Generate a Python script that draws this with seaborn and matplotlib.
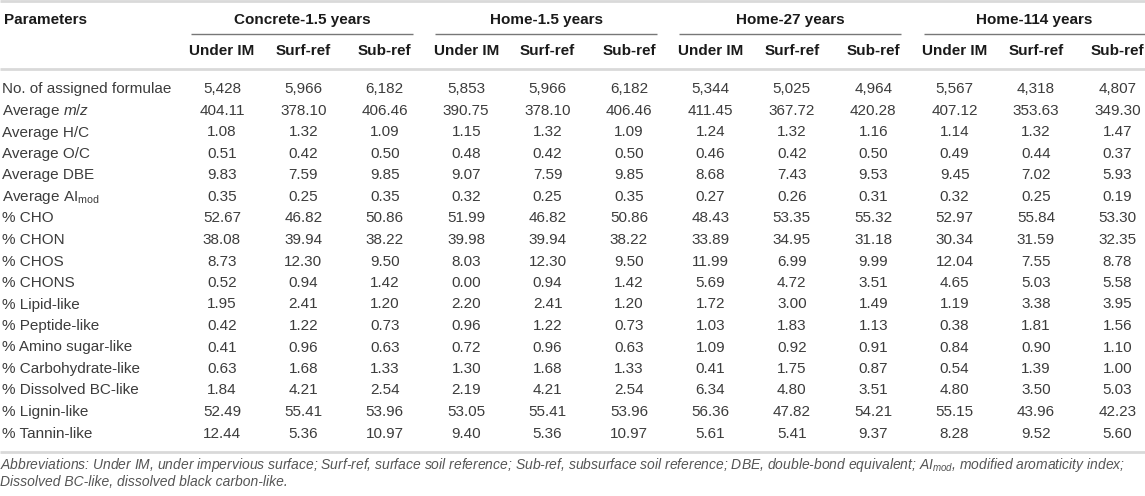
import numpy as np
import pandas as pd
import matplotlib
matplotlib.use("Agg")
import matplotlib.pyplot as plt
from matplotlib.colors import ListedColormap
import seaborn as sns

# ---------------- data ----------------
parameters = [
    "No. of assigned formulae", r"Average $\mathit{m/z}$", "Average H/C", "Average O/C",
    "Average DBE", r"Average AI$_{\mathrm{mod}}$", "% CHO", "% CHON", "% CHOS", "% CHONS",
    "% Lipid-like", "% Peptide-like", "% Amino sugar-like", "% Carbohydrate-like",
    "% Dissolved BC-like", "% Lignin-like", "% Tannin-like",
]
groups = ["Concrete-1.5 years", "Home-1.5 years", "Home-27 years", "Home-114 years"]
samples = ["Under IM", "Surf-ref", "Sub-ref"]

concrete15_under = [5428, 404.11, 1.08, 0.51, 9.83, 0.35, 52.67, 38.08, 8.73, 0.52, 1.95, 0.42, 0.41, 0.63, 1.84, 52.49, 12.44]
concrete15_surf  = [5966, 378.10, 1.32, 0.42, 7.59, 0.25, 46.82, 39.94, 12.30, 0.94, 2.41, 1.22, 0.96, 1.68, 4.21, 55.41, 5.36]
concrete15_sub   = [6182, 406.46, 1.09, 0.50, 9.85, 0.35, 50.86, 38.22, 9.50, 1.42, 1.20, 0.73, 0.63, 1.33, 2.54, 53.96, 10.97]
home15_under = [5853, 390.75, 1.15, 0.48, 9.07, 0.32, 51.99, 39.98, 8.03, 0.00, 2.20, 0.96, 0.72, 1.30, 2.19, 53.05, 9.40]
home15_surf  = [5966, 378.10, 1.32, 0.42, 7.59, 0.25, 46.82, 39.94, 12.30, 0.94, 2.41, 1.22, 0.96, 1.68, 4.21, 55.41, 5.36]
home15_sub   = [6182, 406.46, 1.09, 0.50, 9.85, 0.35, 50.86, 38.22, 9.50, 1.42, 1.20, 0.73, 0.63, 1.33, 2.54, 53.96, 10.97]
home27_under = [5344, 411.45, 1.24, 0.46, 8.68, 0.27, 48.43, 33.89, 11.99, 5.69, 1.72, 1.03, 1.09, 0.41, 6.34, 56.36, 5.61]
home27_surf  = [5025, 367.72, 1.32, 0.42, 7.43, 0.26, 53.35, 34.95, 6.99, 4.72, 3.00, 1.83, 0.92, 1.75, 4.80, 47.82, 5.41]
home27_sub   = [4964, 420.28, 1.16, 0.50, 9.53, 0.31, 55.32, 31.18, 9.99, 3.51, 1.49, 1.13, 0.91, 0.87, 3.51, 54.21, 9.37]
home114_under = [5567, 407.12, 1.14, 0.49, 9.45, 0.32, 52.97, 30.34, 12.04, 4.65, 1.19, 0.38, 0.84, 0.54, 4.80, 55.15, 8.28]
home114_surf  = [4318, 353.63, 1.32, 0.44, 7.02, 0.25, 55.84, 31.59, 7.55, 5.03, 3.38, 1.81, 0.90, 1.39, 3.50, 43.96, 9.52]
home114_sub   = [4807, 349.30, 1.47, 0.37, 5.93, 0.19, 53.30, 32.35, 8.78, 5.58, 3.95, 1.56, 1.10, 1.00, 5.03, 42.23, 5.60]

footnote_1 = (r"Abbreviations: Under IM, under impervious surface; Surf-ref, surface soil reference; "
              r"Sub-ref, subsurface soil reference; DBE, double-bond equivalent; "
              r"$\mathit{AI}_{\mathit{mod}}$, modified aromaticity index;")
footnote_2 = "Dissolved BC-like, dissolved black carbon-like."

# ---------------- build table ----------------
columns = [concrete15_under, concrete15_surf, concrete15_sub,
           home15_under, home15_surf, home15_sub,
           home27_under, home27_surf, home27_sub,
           home114_under, home114_surf, home114_sub]
col_names = [f"{g}|{s}" for g in groups for s in samples]
df = pd.DataFrame(np.array(columns).T, index=parameters, columns=col_names)

labels = df.copy().astype(object)
for i in range(df.shape[0]):
    for j in range(df.shape[1]):
        v = df.iat[i, j]
        labels.iat[i, j] = f"{int(round(v)):,}" if i == 0 else f"{v:.2f}"

# ---------------- style ----------------
sns.set_theme(style="white")
plt.rcParams["font.family"] = ["Liberation Sans", "DejaVu Sans"]
plt.rcParams["mathtext.fontset"] = "custom"
plt.rcParams["mathtext.rm"] = "Liberation Sans"
plt.rcParams["mathtext.it"] = "Liberation Sans:italic"
plt.rcParams["mathtext.bf"] = "Liberation Sans:bold"

W, H = 1145, 496
fig = plt.figure(figsize=(W / 100, H / 100), dpi=100)
fig.patch.set_facecolor("white")

text_col = "#3c3c3c"
head_col = "#1a1a1a"
fs = 11

# geometry in pixels
col_w = 81.4
x0 = 222.0                      # centre of first data column
row_h = 21.5
y_first = 89.5                  # centre of first data row
n_rows, n_cols = df.shape
left_px = x0 - col_w / 2
top_px = y_first - row_h / 2
bot_px = top_px + n_rows * row_h

# body via seaborn heatmap (white cells, annotated)
hax = fig.add_axes([left_px / W, 1 - bot_px / H, n_cols * col_w / W, n_rows * row_h / H])
sns.heatmap(df, ax=hax, cmap=ListedColormap(["white"]), cbar=False,
            annot=labels.values, fmt="", linewidths=0,
            annot_kws={"fontsize": fs, "color": text_col, "fontfamily": "Liberation Sans"})
hax.set_xticks([]); hax.set_yticks([])
hax.set_xlabel(""); hax.set_ylabel("")
for s in hax.spines.values():
    s.set_visible(False)

# overlay axes in pixel coordinates
ax = fig.add_axes([0, 0, 1, 1], facecolor="none")
ax.set_xlim(0, W)
ax.set_ylim(H, 0)
ax.axis("off")

# row labels
for i, p in enumerate(parameters):
    ax.text(2, y_first + i * row_h, p, ha="left", va="center", fontsize=fs, color=text_col)

# header
y_group = 20
y_sub = 51
ax.text(4, y_group, "Parameters", ha="left", va="center", fontsize=fs,
        fontweight="bold", color=head_col)
for g, gname in enumerate(groups):
    c0 = x0 + (3 * g) * col_w
    c2 = x0 + (3 * g + 2) * col_w
    xa, xb = c0 - 31, min(c2 + 28, W)
    ax.plot([xa, xb], [34, 34], color="#777777", lw=1.0, solid_capstyle="butt")
    ax.text((xa + xb) / 2, y_group, gname, ha="center", va="center", fontsize=fs,
            fontweight="bold", color=head_col)
    for k, s in enumerate(samples):
        ax.text(x0 + (3 * g + k) * col_w, y_sub, s, ha="center", va="center",
                fontsize=fs, fontweight="bold", color=head_col)

# rules
rule_col = "#d9d9d9"
ax.plot([0, W], [1, 1], color=rule_col, lw=2.0, solid_capstyle="butt")
ax.plot([0, W], [69, 69], color=rule_col, lw=2.0, solid_capstyle="butt")
ax.plot([0, W], [452, 452], color=rule_col, lw=2.0, solid_capstyle="butt")

# footnotes
ax.text(0, 465, footnote_1, ha="left", va="center", fontsize=10, style="italic", color="#555555")
ax.text(0, 482, footnote_2, ha="left", va="center", fontsize=10, style="italic", color="#555555")

fig.savefig("out.png", dpi=100, facecolor="white")
